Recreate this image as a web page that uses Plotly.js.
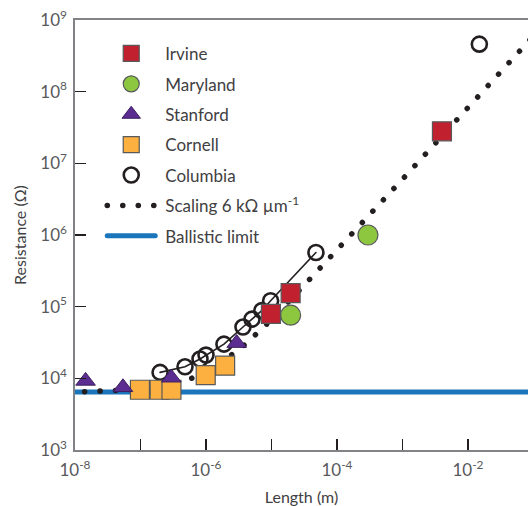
<!DOCTYPE html>
<html>
<head>
<meta charset="utf-8">
<script src="https://cdn.plot.ly/plotly-3.0.1.min.js"></script>
<style>
  html, body { margin: 0; padding: 0; background: #fff; }
  #chart { width: 528px; height: 506px; }
  /* round ends give the scaling line its dotted look */
  path.js-line { stroke-linecap: round; }
</style>
</head>
<body>
<div id="chart"></div>
<script>
// Irvine (length in m, resistance in ohm)
const irvineL = [9.8e-6, 1.96e-5, 4.0e-3];
const irvineR = [7.95e4, 1.55e5, 2.8e7];

// Maryland
const marylandL = [1.96e-5, 2.97e-4];
const marylandR = [7.6e4, 1.0e6];

// Stanford
const stanfordL = [1.45e-8, 5.4e-8, 2.95e-7, 2.94e-6];
const stanfordR = [9.2e3, 7.5e3, 1.02e4, 3.1e4];

// Cornell
const cornellL = [9.8e-8, 1.96e-7, 2.97e-7, 9.9e-7, 1.96e-6];
const cornellR = [6.93e3, 6.93e3, 6.93e3, 1.11e4, 1.5e4];

// Columbia (the first ten form one connected device series)
const columbiaL = [1.99e-7, 4.78e-7, 8.1e-7, 1.0e-6, 1.88e-6, 3.67e-6, 5.04e-6, 7.1e-6, 9.7e-6, 4.77e-5, 1.49e-2];
const columbiaR = [1.21e4, 1.45e4, 1.86e4, 2.11e4, 3.0e4, 5.2e4, 6.7e4, 8.8e4, 1.21e5, 5.7e5, 4.6e8];
const columbiaLinked = 10;

// Scaling 6 kOhm per micron
const scalingL = [1.4e-8, 3e-8, 1e-7, 3e-7, 6e-7, 1e-6, 2e-6, 4e-6, 1e-5, 3e-5, 1e-4, 1e-3, 1e-2, 1e-1];
const scalingR = [6.5e3, 6.6e3, 7.0e3, 8.3e3, 1.0e4, 1.25e4, 1.85e4, 3.0e4, 6.6e4, 1.9e5, 6.1e5, 6.0e6, 6.0e7, 6.0e8];

// Ballistic limit h/4e^2
const ballisticL = [1e-8, 1e-1];
const ballisticR = [6450, 6450];

// Tick labels: labelled decades and the unlabelled ones between them
const xTickExp = [-8, -6, -4, -2];
const xTickText = ['10<sup>-8</sup>', '10<sup>-6</sup>', '10<sup>-4</sup>', '10<sup>-2</sup>'];
const xMinorExp = [-7, -5, -3];
const yTickExp = [3, 4, 5, 6, 7, 8, 9];
const yTickText = ['10<sup>3</sup>', '10<sup>4</sup>', '10<sup>5</sup>', '10<sup>6</sup>', '10<sup>7</sup>', '10<sup>8</sup>', '10<sup>9</sup>'];

const edge = '#58595b';
const FONT = 'Lato, "Open Sans", sans-serif';

const traces = [
  {
    name: 'Ballistic limit', x: ballisticL, y: ballisticR, mode: 'lines',
    line: {color: '#1b75bb', width: 5}, legendrank: 7, legendgroup: 'g7'
  },
  {
    name: 'Scaling 6 kΩ µm<sup>-1</sup>', x: scalingL, y: scalingR, mode: 'lines',
    line: {color: '#231f20', width: 5.5, dash: '0.1px,15.4px'}, legendrank: 6, legendgroup: 'g6'
  },
  {
    name: 'Columbia device', x: columbiaL.slice(0, columbiaLinked), y: columbiaR.slice(0, columbiaLinked),
    mode: 'lines', line: {color: '#231f20', width: 1.6}, showlegend: false, legendgroup: 'g5'
  },
  {
    name: 'Columbia', x: columbiaL, y: columbiaR, mode: 'markers',
    marker: {symbol: 'circle-open', size: 15, color: '#231f20', line: {width: 2.6, color: '#231f20'}},
    legendrank: 5, legendgroup: 'g5'
  },
  {
    name: 'Cornell', x: cornellL, y: cornellR, mode: 'markers',
    marker: {symbol: 'square', size: 19, color: '#fbb040', line: {width: 1.2, color: edge}},
    legendrank: 4, legendgroup: 'g4'
  },
  {
    name: 'Stanford', x: stanfordL, y: stanfordR, mode: 'markers',
    marker: {symbol: 'triangle-up', size: 17, color: '#5c2d91', line: {width: 1, color: '#3b1f5e'}},
    legendrank: 3, legendgroup: 'g3'
  },
  {
    name: 'Maryland', x: marylandL, y: marylandR, mode: 'markers',
    marker: {symbol: 'circle', size: 20, color: '#8dc63f', line: {width: 1.2, color: edge}},
    legendrank: 2, legendgroup: 'g2'
  },
  {
    name: 'Irvine', x: irvineL, y: irvineR, mode: 'markers',
    marker: {symbol: 'square', size: 19, color: '#c1202f', line: {width: 1.2, color: edge}},
    legendrank: 1, legendgroup: 'g1'
  }
];

const axisCommon = {
  type: 'log',
  showgrid: false,
  zeroline: false,
  showline: true,
  linecolor: '#808285',
  linewidth: 1.6,
  ticks: 'inside',
  ticklen: 11,
  tickwidth: 1.4,
  tickcolor: '#231f20',
  tickfont: {family: FONT, size: 17, color: '#58595b'},
  tickmode: 'array'
};

const layout = {
  width: 528,
  height: 506,
  margin: {l: 75, r: 0, t: 20, b: 56},
  paper_bgcolor: '#ffffff',
  plot_bgcolor: '#ffffff',
  font: {family: FONT, color: '#414042'},
  showlegend: true,
  legend: {
    x: 0.08, y: 0.963, xanchor: 'left', yanchor: 'top',
    bgcolor: 'rgba(0,0,0,0)',
    font: {family: FONT, size: 17, color: '#414042'},
    traceorder: 'grouped',
    tracegroupgap: 5.3
  },
  xaxis: Object.assign({}, axisCommon, {
    range: [-8, -1.084],
    mirror: true,
    ticklabelstandoff: 4,
    tickvals: xTickExp.map(e => Math.pow(10, e)),
    ticktext: xTickText,
    minor: {
      tickmode: 'array',
      tickvals: xMinorExp.map(e => Math.pow(10, e)),
      ticks: 'inside', ticklen: 11, tickwidth: 1.4, tickcolor: '#231f20', showgrid: false
    },
    title: {text: 'Length (m)', font: {family: FONT, size: 16, color: '#414042'}, standoff: 13}
  }),
  yaxis: Object.assign({}, axisCommon, {
    range: [3, 9],
    ticklabelstandoff: 3,
    tickvals: yTickExp.map(e => Math.pow(10, e)),
    ticktext: yTickText,
    title: {text: 'Resistance (Ω)', font: {family: FONT, size: 16, color: '#414042'}, standoff: 0}
  })
};

Plotly.newPlot('chart', traces, layout, {displayModeBar: false, staticPlot: true}).then(function (gd) {
  // wider legend swatches with the labels set further right
  gd.querySelectorAll('.legend [clip-path]').forEach(function (el) {
    el.removeAttribute('clip-path');
  });
  gd.querySelectorAll('.legend .legendtext').forEach(function (t) {
    t.setAttribute('x', 54);
    t.querySelectorAll('tspan[x]').forEach(function (s) { s.setAttribute('x', 54); });
  });
  gd.querySelectorAll('.legend .legendlines path').forEach(function (p) {
    p.setAttribute('d', 'M-4,0h48');
  });
  // y-axis title sits a little further from the tick labels
  const yt = gd.querySelector('.ytitle');
  if (yt) {
    const tx = parseFloat(yt.getAttribute('x')) - 10;
    const ty = parseFloat(yt.getAttribute('y'));
    yt.setAttribute('x', tx);
    yt.setAttribute('transform', 'rotate(-90,' + tx + ',' + ty + ')');
  }
});
</script>
</body>
</html>
